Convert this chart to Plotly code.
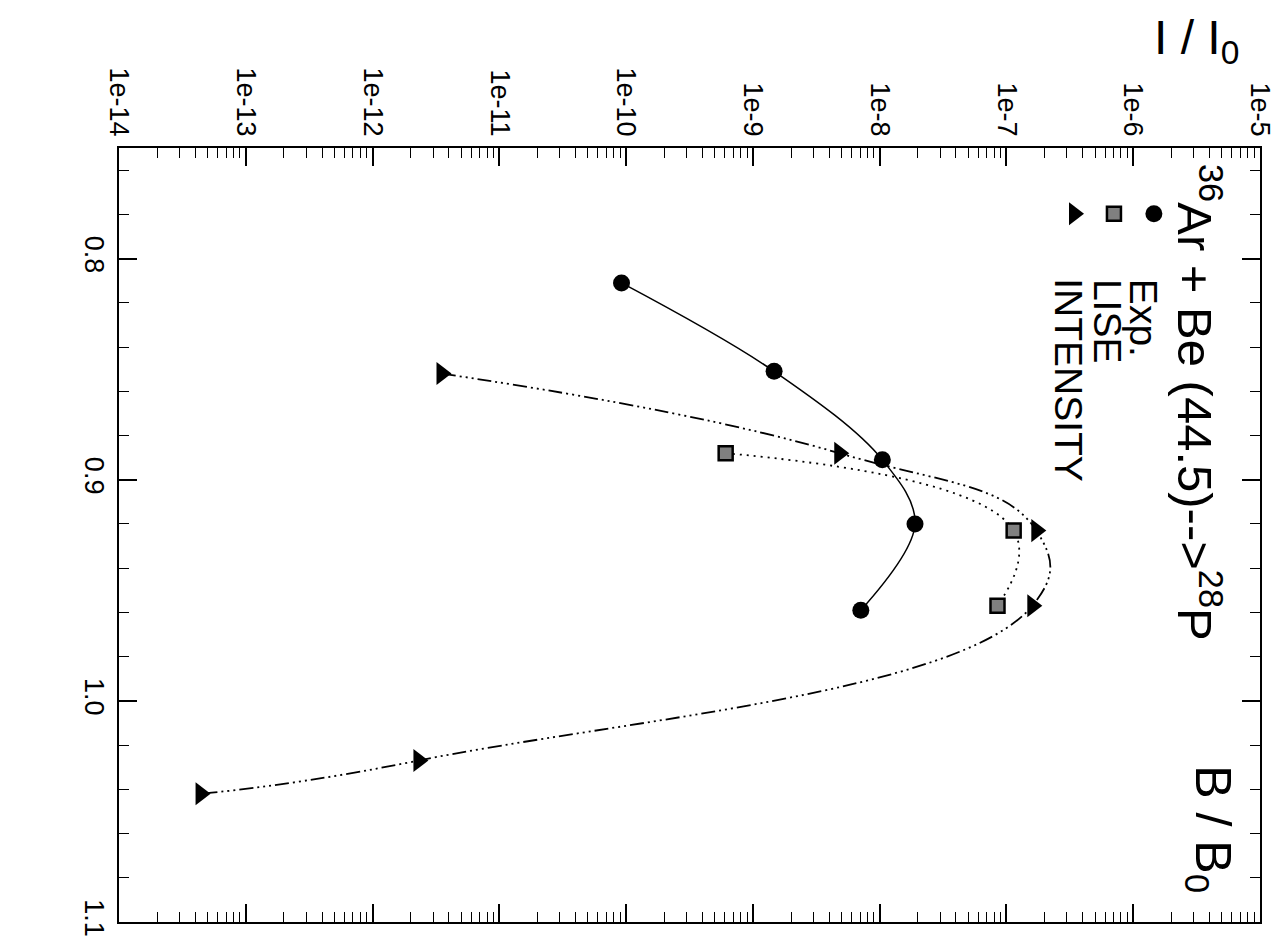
import plotly.graph_objects as go

# ---- data ----
exp_b = [0.811, 0.851, 0.891, 0.920, 0.959]
exp_i = [9.2e-11, 1.47e-9, 1.05e-8, 1.9e-8, 7.1e-9]

lise_b = [0.888, 0.923, 0.957]
lise_i = [6.1e-10, 1.14e-7, 8.5e-8]

int_b = [0.852, 0.888, 0.923, 0.957, 1.027, 1.042]
int_i = [3.5e-12, 4.8e-9, 1.72e-7, 1.6e-7, 2.3e-12, 4.4e-14]

x_tickvals = [1e-14, 1e-13, 1e-12, 1e-11, 1e-10, 1e-9, 1e-8, 1e-7, 1e-6, 1e-5]
x_ticktext = ["1e-14", "1e-13", "1e-12", "1e-11", "1e-10", "1e-9", "1e-8", "1e-7", "1e-6", "1e-5"]
y_tickvals = [0.8, 0.9, 1.0, 1.1]
y_ticktext = ["0.8", "0.9", "1.0", "1.1"]

x_minor = [k * 10.0 ** e for e in range(-14, -5) for k in range(2, 10)]

FONT = "Liberation Sans, Arial, Helvetica, sans-serif"
INT_DASH = "14px,4px,2px,4px,2px,4px,2px,4px"

fig = go.Figure()

fig.add_trace(go.Scatter(
    x=exp_i, y=exp_b, mode="lines+markers", name="Exp.",
    line=dict(shape="spline", smoothing=1.0, color="black", width=1.5),
    marker=dict(symbol="circle", size=17, color="black"),
))
fig.add_trace(go.Scatter(
    x=lise_i, y=lise_b, mode="lines+markers", name="LISE",
    line=dict(shape="spline", smoothing=1.3, color="black", width=1.8, dash="2px,5px"),
    marker=dict(symbol="square", size=14, color="#808080", line=dict(color="black", width=2.5)),
))
fig.add_trace(go.Scatter(
    x=int_i, y=int_b, mode="lines+markers", name="INTENSITY",
    line=dict(shape="spline", smoothing=1.3, color="black", width=1.8, dash=INT_DASH),
    marker=dict(symbol="triangle-right", size=20, color="black"),
))

# legend symbols on an overlay (hidden) axis in plot-fraction units
leg_x = [0.907, 0.872, 0.837]
leg_y = [0.915, 0.915, 0.915]
fig.add_trace(go.Scatter(x=[leg_x[0]], y=[leg_y[0]], xaxis="x2", yaxis="y2", mode="markers",
                         marker=dict(symbol="circle", size=17, color="black"), hoverinfo="skip"))
fig.add_trace(go.Scatter(x=[leg_x[1]], y=[leg_y[1]], xaxis="x2", yaxis="y2", mode="markers",
                         marker=dict(symbol="square", size=14, color="#808080",
                                     line=dict(color="black", width=2.5)), hoverinfo="skip"))
fig.add_trace(go.Scatter(x=[leg_x[2]], y=[leg_y[2]], xaxis="x2", yaxis="y2", mode="markers",
                         marker=dict(symbol="triangle-right", size=20, color="black"), hoverinfo="skip"))

axis_common = dict(
    showline=True, linecolor="black", linewidth=2, mirror="allticks",
    ticks="inside", ticklen=18, tickwidth=1.5, tickcolor="black",
    showgrid=False, zeroline=False, tickangle=90,
    tickfont=dict(family=FONT, size=27, color="black"),
)

fig.update_layout(
    width=1279, height=941,
    margin=dict(l=111, r=19, t=140, b=19),
    paper_bgcolor="white", plot_bgcolor="white",
    showlegend=False,
    font=dict(family=FONT, color="black"),
    xaxis=dict(
        type="log", range=[-14, -5], side="top",
        tickmode="array", tickvals=x_tickvals, ticktext=x_ticktext,
        minor=dict(tickmode="array", tickvals=x_minor, ticks="inside", ticklen=10,
                   tickwidth=1.2, tickcolor="black", showgrid=False),
        **axis_common,
    ),
    yaxis=dict(
        range=[1.1, 0.75],
        tickmode="array", tickvals=y_tickvals, ticktext=y_ticktext,
        minor=dict(tick0=0, dtick=0.02, ticks="inside", ticklen=10,
                   tickwidth=1.2, tickcolor="black", showgrid=False),
        **axis_common,
    ),
    xaxis2=dict(overlaying="x", range=[0, 1], visible=False, anchor="y2"),
    yaxis2=dict(overlaying="y", range=[0, 1], visible=False, anchor="x2"),
)

annots = [
    dict(text="<sup>36</sup>Ar + Be (44.5)--&gt;<sup>28</sup>P", x=0.946, y=0.982,
         xanchor="center", yanchor="top", textangle=90, font=dict(size=49)),
    dict(text="Exp.", x=0.898, y=0.834, xanchor="center", yanchor="top", textangle=90,
         font=dict(size=39)),
    dict(text="LISE", x=0.866, y=0.834, xanchor="center", yanchor="top", textangle=90,
         font=dict(size=39)),
    dict(text="INTENSITY", x=0.832, y=0.834, xanchor="center", yanchor="top", textangle=90,
         font=dict(size=39)),
    dict(text="I / I<sub>0</sub>", x=0.944, y=1.138, xanchor="center", yanchor="middle",
         textangle=0, font=dict(size=48)),
    dict(text="B / B<sub>0</sub>", x=0.956, y=0.12, xanchor="center", yanchor="middle",
         textangle=90, font=dict(size=50)),
]
for a in annots:
    a.update(xref="paper", yref="paper", showarrow=False)
    a["font"] = dict(family=FONT, color="black", **a["font"])
fig.update_layout(annotations=annots)

fig.write_html("out.html")
